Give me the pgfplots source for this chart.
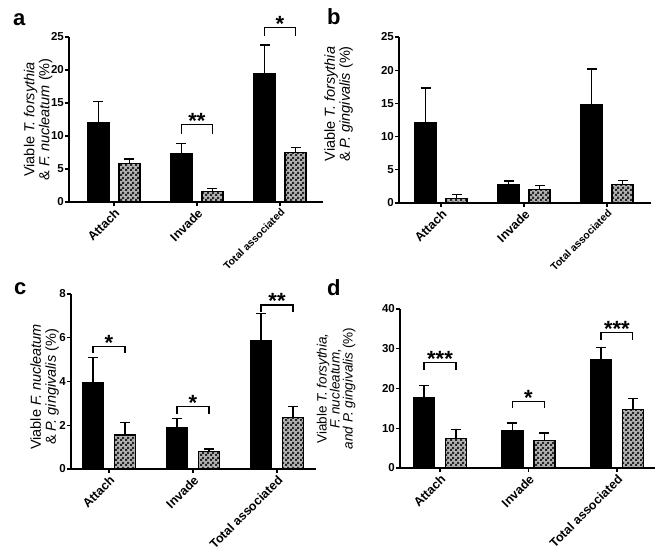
\documentclass[border=0pt]{standalone}
\usepackage{fontspec}
\setmainfont{Liberation Sans}
\usepackage{pgfplots}
\pgfplotsset{compat=1.18}
\usetikzlibrary{patterns}
\pgfdeclarepatternformonly{mychecker}{\pgfqpoint{0pt}{0pt}}{\pgfqpoint{5pt}{5pt}}{\pgfqpoint{5pt}{5pt}}{%
  \pgfpathrectangle{\pgfpointorigin}{\pgfqpoint{2.5pt}{2.5pt}}%
  \pgfpathrectangle{\pgfqpoint{2.5pt}{2.5pt}}{\pgfqpoint{2.5pt}{2.5pt}}%
  \pgfusepath{fill}}
\pgfplotsset{
  panel/.style={
    scale only axis, anchor=south west,
    axis lines=left, axis line style={-, line width=1.3pt},
    tick align=outside, major tick length=4pt,
    every tick/.style={line width=1.2pt, black},
    xtick={0,1,2}, xticklabels={Attach,Invade,Total associated},
    x tick label style={rotate=45, anchor=north east, inner sep=1pt,
      font=\bfseries\fontsize{12.5}{13}\selectfont},
    y tick label style={font=\bfseries\fontsize{11.5}{12}\selectfont, inner sep=1pt},
    /pgf/number format/assume math mode=true,
    ymin=0, clip=false, ybar, bar width=21pt,
    ylabel style={font=\fontsize{14.5}{15}\selectfont, align=center, anchor=center},
  },
  blk/.style={fill=black, draw=black, line width=1.2pt, bar shift=-#1,
    error bars/.cd, y dir=plus, y explicit,
    error bar style={line width=1.3pt, black},
    error mark options={rotate=90, mark size=5pt, line width=1.3pt, black}},
  chk/.style={fill=gray!60, draw=black, line width=1.2pt, bar shift=#1,
    postaction={pattern=mychecker, pattern color=black!85},
    error bars/.cd, y dir=plus, y explicit,
    error bar style={line width=1.3pt, black},
    error mark options={rotate=90, mark size=5pt, line width=1.3pt, black}},
}
\newcommand{\sig}[5]{% x, dx, ybottom, ytop, stars
  \draw[line width=1.2pt, black] (axis cs:#1-#2,#3) -- (axis cs:#1-#2,#4) -- (axis cs:#1+#2,#4) -- (axis cs:#1+#2,#3);
  \node[anchor=base, inner sep=0pt, yshift=-4pt, font=\bfseries\fontsize{22}{22}\selectfont] at (axis cs:#1,#4) {#5};}
\begin{document}
\begin{tikzpicture}
\path[use as bounding box] (0,0) rectangle (661pt,-551pt);
% panel letters
\node[anchor=base west, inner sep=0pt, font=\bfseries\fontsize{22}{22}\selectfont] at (13pt,-26pt) {a};
\node[anchor=base west, inner sep=0pt, font=\bfseries\fontsize{22}{22}\selectfont] at (327pt,-25pt) {b};
\node[anchor=base west, inner sep=0pt, font=\bfseries\fontsize{22}{22}\selectfont] at (14pt,-294pt) {c};
\node[anchor=base west, inner sep=0pt, font=\bfseries\fontsize{22}{22}\selectfont] at (327pt,-295pt) {d};

% ---- a ----
\begin{axis}[panel, at={(69pt,-202pt)}, width=254pt, height=165pt,
  xmin=-0.542, xmax=2.518, ymax=25, ytick={0,5,...,25},
  ylabel={Viable \textit{T. forsythia}\\\& \textit{F. nucleatum} (\%)},
  ylabel style={at={(axis description cs:-0.122,0.5)}},
  xticklabels={Attach,Invade,{\fontsize{10.5}{10.5}\selectfont Total associated}}]
\addplot[blk=15.5pt] coordinates {(0,12.0) +- (0,3.2) (1,7.4) +- (0,1.5) (2,19.5) +- (0,4.3)};
\addplot[chk=15.5pt] coordinates {(0,5.8) +- (0,0.7) (1,1.6) +- (0,0.4) (2,7.5) +- (0,0.8)};
\sig{1}{0.187}{10.3}{11.7}{**}
\sig{2}{0.187}{25.2}{26.5}{*}
\end{axis}

% ---- b ----
\begin{axis}[panel, at={(399pt,-203pt)}, width=252pt, height=166pt,
  xmin=-0.506, xmax=2.53, ymax=25, ytick={0,5,...,25},
  ylabel={Viable \textit{T. forsythia}\\\& \textit{P. gingivalis} (\%)},
  ylabel style={at={(axis description cs:-0.24,0.596)}},
  xticklabels={Attach,Invade,{\fontsize{10.5}{10.5}\selectfont Total associated}}]
\addplot[blk=15.5pt] coordinates {(0,12.1) +- (0,5.2) (1,2.7) +- (0,0.6) (2,14.8) +- (0,5.4)};
\addplot[chk=15.5pt] coordinates {(0,0.7) +- (0,0.6) (1,2.0) +- (0,0.6) (2,2.8) +- (0,0.6)};
\end{axis}

% ---- c ----
\begin{axis}[panel, at={(71pt,-469pt)}, width=245pt, height=175pt,
  xmin=-0.452, xmax=2.464, ymax=8, ytick={0,2,...,8},
  ylabel={Viable \textit{F. nucleatum}\\\& \textit{P. gingivalis} (\%)},
  ylabel style={at={(axis description cs:-0.108,0.469)}}]
\addplot[blk=16pt] coordinates {(0,3.95) +- (0,1.15) (1,1.9) +- (0,0.4) (2,5.85) +- (0,1.25)};
\addplot[chk=16pt] coordinates {(0,1.55) +- (0,0.57) (1,0.8) +- (0,0.12) (2,2.35) +- (0,0.5)};
\sig{0}{0.19}{5.3}{5.6}{*}
\sig{1}{0.19}{2.5}{2.85}{*}
\sig{2}{0.19}{7.2}{7.5}{**}
\end{axis}

% ---- d ----
\begin{axis}[panel, at={(400pt,-468pt)}, width=255pt, height=159pt,
  xmin=-0.452, xmax=2.43, ymax=40, ytick={0,10,...,40},
  ylabel={Viable \textit{T. forsythia,}\\\textit{F. nucleatum,}\\\textit{and P. gingivalis} (\%)},
  ylabel style={at={(axis description cs:-0.25,0.5)}, font=\fontsize{13.5}{13}\selectfont}]
\addplot[blk=16pt] coordinates {(0,17.6) +- (0,3.2) (1,9.5) +- (0,1.8) (2,27.2) +- (0,3.1)};
\addplot[chk=16pt] coordinates {(0,7.4) +- (0,2.3) (1,7.0) +- (0,1.8) (2,14.8) +- (0,2.6)};
\sig{0}{0.18}{24.7}{26.6}{***}
\sig{1}{0.18}{15.0}{16.7}{*}
\sig{2}{0.18}{32.3}{34.1}{***}
\end{axis}
\end{tikzpicture}
\end{document}
